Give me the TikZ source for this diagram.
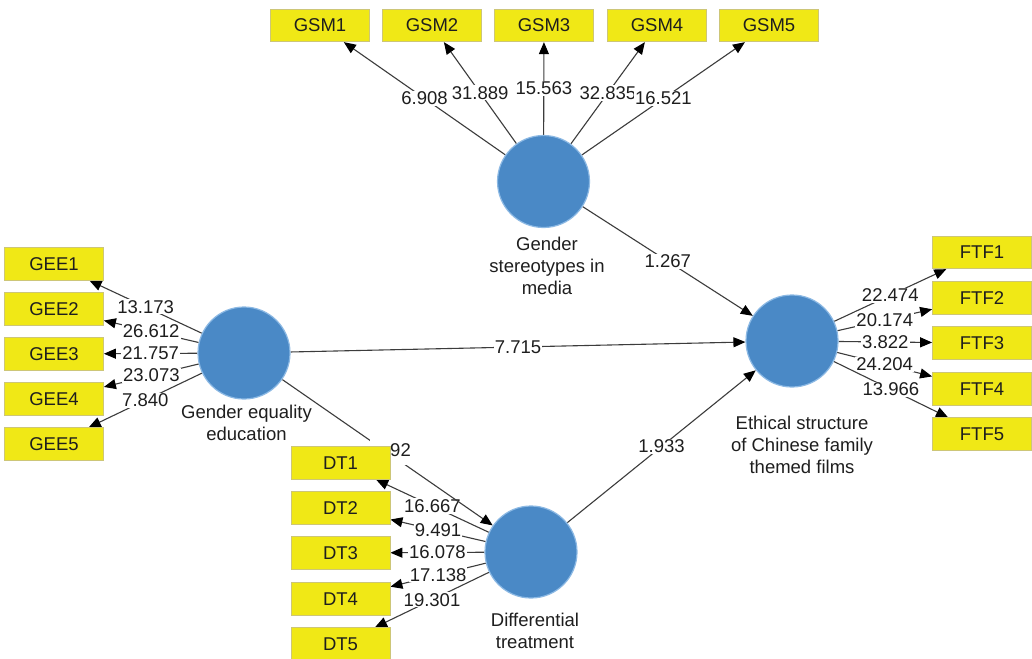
\documentclass[tikz,border=0pt]{standalone}
\usepackage{fontspec}
\setmainfont{Liberation Sans}
\usetikzlibrary{arrows.meta}
\definecolor{boxfill}{RGB}{240,232,22}
\definecolor{boxline}{RGB}{205,198,120}
\definecolor{circfill}{RGB}{74,137,198}
\definecolor{circline}{RGB}{140,185,228}
\definecolor{edgecol}{RGB}{60,60,60}
\definecolor{txt}{RGB}{30,30,30}
\pgfdeclarelayer{paper}
\pgfdeclarelayer{bg}
\pgfsetlayers{paper,bg,main}
\tikzset{
  every node/.style={font=\fontsize{18.5}{22}\selectfont, text=txt},
  ind/.style={draw=boxline, fill=boxfill, line width=0.8pt, minimum width=99pt, minimum height=32.5pt, inner sep=0pt},
  lat/.style={circle, draw=circline, fill=circfill, line width=1.2pt, minimum size=92pt, inner sep=0pt},
  latcaption/.style={align=center},
  conn/.style={draw=edgecol, line width=1.1pt, -{Triangle[length=12pt,width=10pt,color=black]}},
  lbl/.style={fill=white, inner sep=1pt, midway}
}
\begin{document}
\begin{tikzpicture}[x=1pt,y=-1pt]
\useasboundingbox (0,0) rectangle (1032,658);
\begin{pgfonlayer}{paper}
\fill[white] (0,0) rectangle (1032,658);
\end{pgfonlayer}
% latent variables
\node[lat] (gsm) at (543.5,181.5) {};
\node[lat] (gee) at (244,353) {};
\node[lat] (dt) at (531,552) {};
\node[lat] (ftf) at (792,341) {};
\node[latcaption] (gsmc) at (547,266) {Gender\\stereotypes in\\media};
\node[latcaption] (geec) at (246.5,423) {Gender equality\\education};
\node[latcaption] (dtc) at (535,630.5) {Differential\\treatment};
\node[latcaption] (ftfc) at (802,445) {Ethical structure\\of Chinese family\\themed films};
% indicators
\node[ind] (gsm1) at (320,25.5) {GSM1};
\node[ind] (gsm2) at (432,25.5) {GSM2};
\node[ind] (gsm3) at (544,25.5) {GSM3};
\node[ind] (gsm4) at (657,25.5) {GSM4};
\node[ind] (gsm5) at (769,25.5) {GSM5};
\node[ind] (gee1) at (54,264) {GEE1};
\node[ind] (gee2) at (54,309) {GEE2};
\node[ind] (gee3) at (54,354) {GEE3};
\node[ind] (gee4) at (54,399) {GEE4};
\node[ind] (gee5) at (54,444) {GEE5};
\node[ind] (dt1) at (340.5,463) {DT1};
\node[ind] (dt2) at (340.5,508) {DT2};
\node[ind] (dt3) at (340.5,553) {DT3};
\node[ind] (dt4) at (340.5,599) {DT4};
\node[ind] (dt5) at (340.5,644) {DT5};
\node[ind] (ftf1) at (982,252.5) {FTF1};
\node[ind] (ftf2) at (982,298) {FTF2};
\node[ind] (ftf3) at (982,343) {FTF3};
\node[ind] (ftf4) at (982,389) {FTF4};
\node[ind] (ftf5) at (982,434) {FTF5};
\begin{pgfonlayer}{bg}
% outer loadings
\draw[conn] (gsm) -- node[lbl]{6.908} (gsm1);
\draw[conn] (gsm) -- node[lbl]{31.889} (gsm2);
\draw[conn] (gsm) -- node[lbl]{15.563} (gsm3);
\draw[conn] (gsm) -- node[lbl]{32.835} (gsm4);
\draw[conn] (gsm) -- node[lbl]{16.521} (gsm5);
\draw[conn] (gee) -- node[lbl]{13.173} (gee1);
\draw[conn] (gee) -- node[lbl]{26.612} (gee2);
\draw[conn] (gee) -- node[lbl]{21.757} (gee3);
\draw[conn] (gee) -- node[lbl]{23.073} (gee4);
\draw[conn] (gee) -- node[lbl]{7.840} (gee5);
\draw[conn] (dt) -- node[lbl]{16.667} (dt1);
\draw[conn] (dt) -- node[lbl]{9.491} (dt2);
\draw[conn] (dt) -- node[lbl]{16.078} (dt3);
\draw[conn] (dt) -- node[lbl]{17.138} (dt4);
\draw[conn] (dt) -- node[lbl]{19.301} (dt5);
\draw[conn] (ftf) -- node[lbl]{22.474} (ftf1);
\draw[conn] (ftf) -- node[lbl]{20.174} (ftf2);
\draw[conn] (ftf) -- node[lbl]{3.822} (ftf3);
\draw[conn] (ftf) -- node[lbl]{24.204} (ftf4);
\draw[conn] (ftf) -- node[lbl]{13.966} (ftf5);
% structural paths
\draw[conn] (gsm) -- node[lbl]{1.267} (ftf);
\draw[conn] (gee) -- node[lbl]{7.715} (ftf);
\draw[conn] (dt) -- node[lbl]{1.933} (ftf);
\draw[conn] (gee) -- (dt);
\node[fill=white, inner sep=1pt, anchor=east, text width=40pt, align=right, minimum height=30pt] (p92) at (412,450) {92};
\end{pgfonlayer}
\end{tikzpicture}
\end{document}
